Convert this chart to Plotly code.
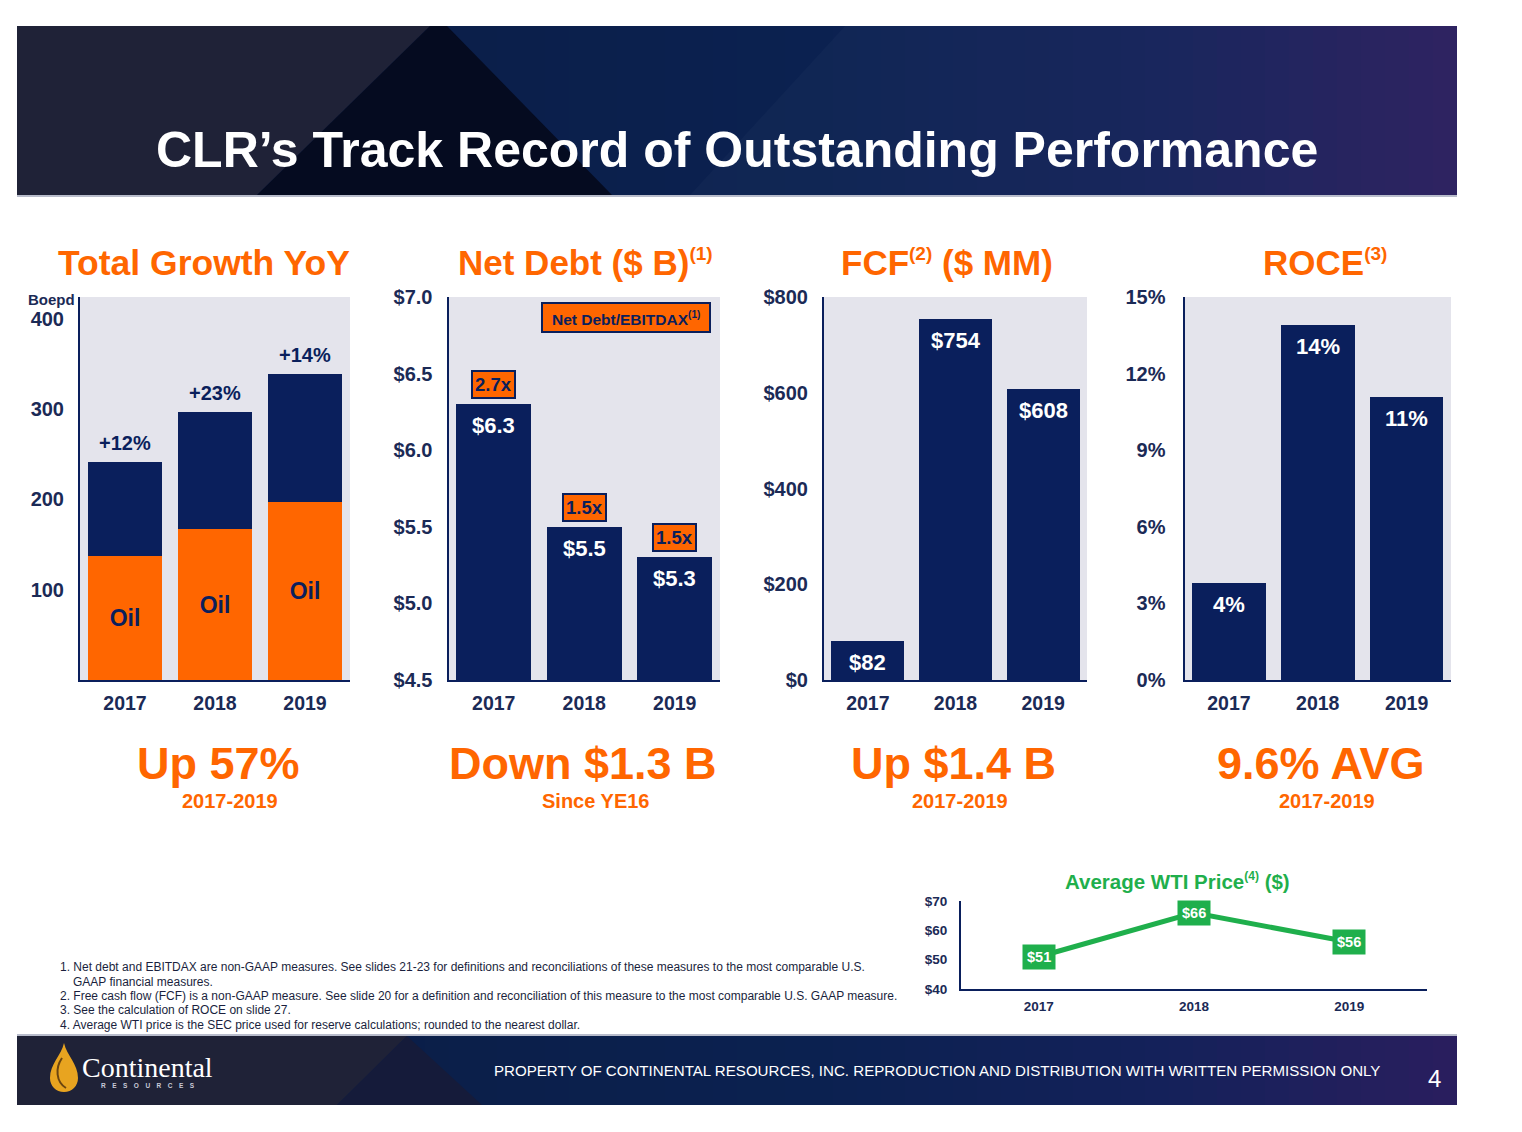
import plotly.graph_objects as go

W, H = 1522, 1132


def px(x):
    return x / W


def py(y):
    return 1 - y / H


# ---------------- data ----------------
years = ["2017", "2018", "2019"]
oil_boepd = [137, 167, 197]
other_boepd = [104, 130, 142]
growth_labels = ["+12%", "+23%", "+14%"]
boepd_ticks = [100, 200, 300, 400]
boepd_ticktext = ["100", "200", "300", "400"]

net_debt = [6.3, 5.5, 5.3]
net_debt_labels = ["$6.3", "$5.5", "$5.3"]
leverage_labels = ["2.7x", "1.5x", "1.5x"]
debt_ticks = [4.5, 5.0, 5.5, 6.0, 6.5, 7.0]
debt_ticktext = ["$4.5", "$5.0", "$5.5", "$6.0", "$6.5", "$7.0"]

fcf = [82, 754, 608]
fcf_labels = ["$82", "$754", "$608"]
fcf_ticks = [0, 200, 400, 600, 800]
fcf_ticktext = ["$0", "$200", "$400", "$600", "$800"]

roce = [3.8, 13.9, 11.1]
roce_labels = ["4%", "14%", "11%"]
roce_ticks = [0, 3, 6, 9, 12, 15]
roce_ticktext = ["0%", "3%", "6%", "9%", "12%", "15%"]

wti = [51, 66, 56]
wti_labels = ["$51", "$66", "$56"]
wti_ticks = [40, 50, 60, 70]
wti_ticktext = ["$40", "$50", "$60", "$70"]

# ---------------- styles ----------------
NAVY = "#0a1f5c"
TICK = "#1b2a56"
ORANGE = "#ff6600"
GREEN = "#1faf4c"
GRAY_BG = "#e4e4ec"
FONT = "Liberation Sans, Arial, sans-serif"

fig = go.Figure()

# Chart 1: production stacked
fig.add_trace(go.Bar(x=years, y=oil_boepd, marker=dict(color=ORANGE, line=dict(width=0)),
                     text=["Oil"] * 3, textposition="inside", insidetextanchor="middle",
                     textangle=0, constraintext="none",
                     textfont=dict(color=NAVY, size=23, family=FONT, weight="bold"),
                     xaxis="x", yaxis="y", hoverinfo="skip"))
fig.add_trace(go.Bar(x=years, y=other_boepd, marker=dict(color=NAVY, line=dict(width=0)),
                     xaxis="x", yaxis="y", hoverinfo="skip"))
# Chart 2: net debt
fig.add_trace(go.Bar(x=years, y=net_debt, marker=dict(color=NAVY, line=dict(width=0)),
                     xaxis="x2", yaxis="y2", hoverinfo="skip"))
# Chart 3: FCF
fig.add_trace(go.Bar(x=years, y=fcf, marker=dict(color=NAVY, line=dict(width=0)),
                     xaxis="x3", yaxis="y3", hoverinfo="skip"))
# Chart 4: ROCE
fig.add_trace(go.Bar(x=years, y=roce, marker=dict(color=NAVY, line=dict(width=0)),
                     xaxis="x4", yaxis="y4", hoverinfo="skip"))
# Chart 5: WTI
fig.add_trace(go.Scatter(x=years, y=wti, mode="lines", line=dict(color=GREEN, width=5),
                         xaxis="x5", yaxis="y5", hoverinfo="skip"))

annotations = []
shapes = []


def ann(text, x, y, size, color, bold=True, xanchor="center", family=FONT, **kw):
    annotations.append(dict(
        text=text, x=px(x), y=py(y), xref="paper", yref="paper",
        xanchor=xanchor, yanchor="middle", showarrow=False,
        font=dict(size=size, color=color, family=family, weight="bold" if bold else "normal"),
        **kw))


def sup(t, size):
    return f'<sup><span style="font-size:{size}px">{t}</span></sup>'


# stacked totals labels (category index positions)
totals = [o + g for o, g in zip(oil_boepd, other_boepd)]
for i, (t, lab) in enumerate(zip(totals, growth_labels)):
    annotations.append(dict(text=lab, x=i, y=t, xref="x", yref="y", yanchor="bottom",
                            yshift=6, showarrow=False,
                            font=dict(size=20, color=NAVY, family=FONT, weight="bold")))

# inside-top value labels
for xa, ya, vals, labs in [("x2", "y2", net_debt, net_debt_labels),
                           ("x3", "y3", fcf, fcf_labels),
                           ("x4", "y4", roce, roce_labels)]:
    for i, (v, lab) in enumerate(zip(vals, labs)):
        annotations.append(dict(text=lab, x=i, y=v, xref=xa, yref=ya, yanchor="top",
                                yshift=-7, showarrow=False,
                                font=dict(size=22, color="white", family=FONT, weight="bold")))

# leverage boxes
for i, (v, lab) in enumerate(zip(net_debt, leverage_labels)):
    annotations.append(dict(text=lab, x=i, y=v, xref="x2", yref="y2", yanchor="bottom",
                            yshift=5, showarrow=False, bgcolor=ORANGE, bordercolor=NAVY,
                            borderwidth=2, borderpad=2,
                            font=dict(size=18.5, color=NAVY, family=FONT, weight="bold")))

# WTI labels
for i, (v, lab) in enumerate(zip(wti, wti_labels)):
    annotations.append(dict(text=lab, x=i, y=v, xref="x5", yref="y5", yanchor="middle",
                            showarrow=False, bgcolor=GREEN, borderpad=4,
                            font=dict(size=14.5, color="white", family=FONT, weight="bold")))

# ---------------- gray chart backgrounds ----------------
for s in ["", "2", "3", "4"]:
    shapes.append(dict(type="rect", xref=f"x{s} domain", yref=f"y{s} domain",
                       x0=0, x1=1, y0=0, y1=1, fillcolor=GRAY_BG, line=dict(width=0),
                       layer="below"))

# Net Debt/EBITDAX legend box
shapes.append(dict(type="rect", xref="paper", yref="paper", x0=px(542), x1=px(710),
                   y0=py(332), y1=py(303), fillcolor=ORANGE, line=dict(color=NAVY, width=2)))
ann("Net Debt/EBITDAX" + sup("(1)", 10), 626, 318, 15.5, NAVY)


# ---------------- header / footer bands ----------------
def hex2rgb(h):
    h = h.lstrip("#")
    return [int(h[k:k + 2], 16) for k in (0, 2, 4)]


def interp(stops, t):
    for (t0, c0), (t1, c1) in zip(stops[:-1], stops[1:]):
        if t0 <= t <= t1:
            f = (t - t0) / (t1 - t0) if t1 > t0 else 0
            a, b = hex2rgb(c0), hex2rgb(c1)
            return "rgb(%d,%d,%d)" % tuple(round(a[k] + (b[k] - a[k]) * f) for k in range(3))
    return stops[-1][1]


def band(x0, x1, y0, y1, stops, n=60):
    for k in range(n):
        xa = x0 + (x1 - x0) * k / n
        xb = x0 + (x1 - x0) * (k + 1) / n + 0.6
        shapes.append(dict(type="rect", xref="paper", yref="paper", x0=px(xa), x1=px(min(xb, x1)),
                           y0=py(y1), y1=py(y0), fillcolor=interp(stops, (k + 0.5) / n),
                           line=dict(width=0), layer="below"))


def poly(points, color, layer="below", line=None):
    d = "M " + " L ".join(f"{px(x):.5f},{py(y):.5f}" for x, y in points) + " Z"
    shapes.append(dict(type="path", xref="paper", yref="paper", path=d, fillcolor=color,
                       line=line or dict(width=0), layer=layer))


band_stops = [(0, "#0a1c42"), (0.55, "#0b2150"), (0.8, "#14215a"), (1, "#2a1e5e")]
# header
band(17, 1457, 26, 195, band_stops)
poly([(17, 26), (430, 26), (257, 195), (17, 195)], "#1f2237")
poly([(430, 26), (447, 26), (612, 195), (257, 195)], "#050b20")
poly([(845, 26), (1457, 26), (1457, 195), (690, 195)], "rgba(255,255,255,0.025)")
shapes.append(dict(type="line", xref="paper", yref="paper", x0=px(17), x1=px(1457),
                   y0=py(196), y1=py(196), line=dict(color="#b8bccb", width=2)))
ann("CLR\u2019s Track Record of Outstanding Performance", 737, 150, 50, "white")

# footer
band(17, 1457, 1036, 1105, band_stops)
poly([(17, 1036), (407, 1036), (337, 1105), (17, 1105)], "#1f2237")
poly([(407, 1036), (482, 1105), (337, 1105)], "#151b3a")
shapes.append(dict(type="line", xref="paper", yref="paper", x0=px(17), x1=px(1457),
                   y0=py(1035), y1=py(1035), line=dict(color="#b8bccb", width=2)))


# logo drop
def bez_path(segs):
    out = []
    for s in segs:
        if s[0] in "ML":
            out.append(f"{s[0]} {px(s[1]):.5f},{py(s[2]):.5f}")
        elif s[0] == "C":
            out.append("C " + " ".join(f"{px(s[k]):.5f},{py(s[k + 1]):.5f}" for k in (1, 3, 5)))
        else:
            out.append(s)
    return " ".join(out)


drop = bez_path([("M", 64, 1043), ("C", 61, 1056, 50, 1064, 50, 1078),
                 ("C", 50, 1086, 56, 1092, 64, 1092), ("C", 72, 1092, 78, 1086, 78, 1078),
                 ("C", 78, 1064, 67, 1056, 64, 1043), "Z"])
shapes.append(dict(type="path", xref="paper", yref="paper", path=drop, fillcolor="#e8a420",
                   line=dict(width=0)))
swoosh = bez_path([("M", 62, 1058), ("C", 55, 1068, 56, 1082, 66, 1088)])
shapes.append(dict(type="path", xref="paper", yref="paper", path=swoosh,
                   line=dict(color="#6b4510", width=2)))
ann("Continental", 80, 1067, 28, "white", bold=False, xanchor="left",
    family="Liberation Serif, Times New Roman, serif")
ann("\u2003".join("RESOURCES"), 148, 1085, 6.5, "#c8cad8", bold=True)
ann("PROPERTY OF CONTINENTAL RESOURCES, INC. REPRODUCTION AND DISTRIBUTION WITH WRITTEN PERMISSION ONLY",
    1382, 1070, 15.1, "white", bold=False, xanchor="right")
ann("4", 1434, 1078, 24, "white", bold=False)

# ---------------- section titles ----------------
ann("Total Growth YoY", 204, 263, 35.5, ORANGE)
ann("Net Debt ($ B)" + sup("(1)", 19), 585, 262, 35, ORANGE)
ann("FCF" + sup("(2)", 19) + " ($ MM)", 947, 262, 35, ORANGE)
ann("ROCE" + sup("(3)", 19), 1325, 262, 35, ORANGE)
ann("Boepd", 51, 299, 15, TICK)

# ---------------- summary texts ----------------
for x, big, x2, small in [(218, "Up 57%", 230, "2017-2019"),
                          (583, "Down $1.3 B", 595, "Since YE16"),
                          (953, "Up $1.4 B", 960, "2017-2019"),
                          (1321, "9.6% AVG", 1327, "2017-2019")]:
    ann(big, x, 763, 45, ORANGE)
    ann(small, x2, 801, 20, ORANGE)

ann("Average WTI Price" + sup("(4)", 12) + " ($)", 1177, 881, 20.5, GREEN)

# ---------------- footnotes ----------------
notes = [
    (58, 967, "1. Net debt and EBITDAX are non-GAAP measures. See slides 21-23 for definitions and reconciliations of these measures to the most comparable U.S."),
    (71, 982, "GAAP financial measures."),
    (58, 996, "2. Free cash flow (FCF) is a non-GAAP measure. See slide 20 for a definition and reconciliation of this measure to the most comparable U.S. GAAP measure."),
    (58, 1010, "3. See the calculation of ROCE on slide 27."),
    (58, 1025, "4. Average WTI price is the SEC price used for reserve calculations; rounded to the nearest dollar."),
]
for x, y, t in notes:
    ann(t, x, y, 12.0, "#1a1f3d", bold=False, xanchor="left")


# ---------------- axes ----------------
def xax(domain, anchor, size=19.5, standoff=5):
    return dict(domain=domain, anchor=anchor, type="category", showline=True, linecolor=NAVY,
                linewidth=2, showgrid=False, zeroline=False, ticks="", fixedrange=True,
                automargin=False, range=[-0.5, 2.5],
                tickfont=dict(size=size, color=TICK, family=FONT, weight="bold"),
                ticklabelstandoff=standoff)


def yax(domain, anchor, rng, tickvals, ticktext, size=20, standoff=10):
    return dict(domain=domain, anchor=anchor, range=rng, tickmode="array", tickvals=tickvals,
                ticktext=ticktext, showline=True, linecolor=NAVY, linewidth=2, showgrid=False,
                zeroline=False, ticks="", fixedrange=True, automargin=False,
                tickfont=dict(size=size, color=TICK, family=FONT, weight="bold"),
                ticklabelstandoff=standoff)


ydom = [py(680), py(297)]
fig.update_layout(
    template="none",
    width=W, height=H, autosize=False, margin=dict(l=0, r=0, t=0, b=0, pad=0, autoexpand=False),
    paper_bgcolor="white", plot_bgcolor="rgba(0,0,0,0)", showlegend=False,
    barmode="stack", bargap=0.17, font=dict(family=FONT),
    xaxis=xax([px(80), px(350)], "y"),
    yaxis=yax(ydom, "x", [0, 424], boepd_ticks, boepd_ticktext),
    xaxis2=xax([px(448.5), px(720)], "y2"),
    yaxis2=yax(ydom, "x2", [4.5, 7.0], debt_ticks, debt_ticktext),
    xaxis3=xax([px(824), px(1087)], "y3"),
    yaxis3=yax(ydom, "x3", [0, 800], fcf_ticks, fcf_ticktext),
    xaxis4=xax([px(1184.5), px(1451)], "y4"),
    yaxis4=yax(ydom, "x4", [0, 15], roce_ticks, roce_ticktext, standoff=13),
    xaxis5=xax([px(961), px(1427)], "y5", size=13.5, standoff=4),
    yaxis5=yax([py(989), py(901)], "x5", [40, 70], wti_ticks, wti_ticktext, size=13.5,
               standoff=9),
    annotations=annotations,
    shapes=shapes,
)

fig.write_html("out.html", config={"displayModeBar": False},
               post_script="document.body.style.margin='0';")
